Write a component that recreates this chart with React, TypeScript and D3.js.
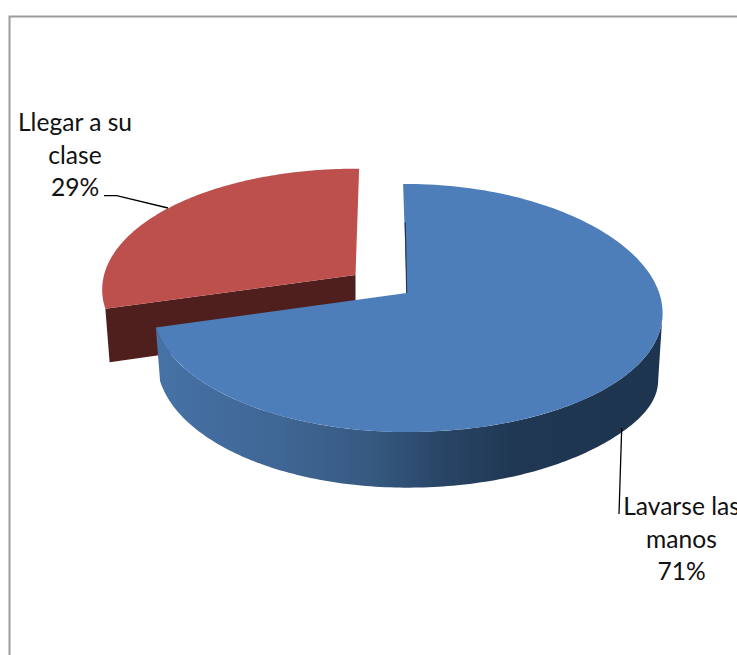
import React from "react";
import * as d3 from "d3";

const categories = ["Lavarse las manos", "Llegar a su clase"];
const values = [12, 5];
const labelLines = [["Lavarse las", "manos", "71%"], ["Llegar a su", "clase", "29%"]];
const topColors = ["#4e7eba", "#bd504d"];
const cutColor = "#4f1f1e";

const W = 737, H = 655;
const R = 254, A = 122.2, B = 0.121;
type Disc = { cx: number; cy: number; sxLeft: number; sy: number };
const blueDisc: Disc = { cx: 406.7, cy: 293, sxLeft: 0.993, sy: 1 };
const redDisc: Disc = { cx: 355.5, cy: 275, sxLeft: 0.99, sy: 0.975 };
const lean = 0.016; // cut edges of each slice lean outward at the far rim

// Tilted-disc projection: theta clockwise from top, r in 0..1, z 0 (top) .. 1 (bottom face)
function project(p: Disc, theta: number, r: number, z: number): [number, number] {
  const u = r * Math.sin(theta);
  const v = -r * Math.cos(theta);
  const d = 1 - B * v;
  const shrink = 1 - 0.017 * z;
  const xs = u < 0 ? p.sxLeft : 1;
  const pos = Math.max(u, 0);
  const droop = 5 * pos ** 2 + z * 14 * pos ** 8;
  const x = p.cx + (R * xs * u / d) * shrink;
  const y = p.cy + (A * p.sy * v / d) * shrink + droop + z * (52.5 + 5.5 * v);
  return [x, y];
}

const slices = d3.pie<number>().sort(null)(values);
const line = d3.line();

function rim(p: Disc, a0: number, a1: number, z: number): [number, number][] {
  return d3.range(0, 161).map((i) => project(p, a0 + ((a1 - a0) * i) / 160, 1, z));
}
function topFace(p: Disc, a0: number, a1: number) {
  return line([project(p, 0, 0, 0), ...rim(p, a0, a1, 0)])! + "Z";
}

export default function App() {
  const blue = slices[0];
  const red = slices[1];
  const sideStart = (97 * Math.PI) / 180;
  const blueSide =
    line([...rim(blueDisc, sideStart, blue.endAngle, 0), ...rim(blueDisc, sideStart, blue.endAngle, 1).reverse()])! + "Z";
  const redCut =
    line([
      project(redDisc, 0, 0, 0),
      project(redDisc, red.startAngle, 1, 0),
      project(redDisc, red.startAngle, 1, 1),
      project(redDisc, 0, 0, 1),
    ])! + "Z";
  const sliverTop = project(blueDisc, -lean * 0.62, 0.62, 0);
  const fontFamily = "Lato, Carlito, Calibri, sans-serif";

  return (
    <svg
      width={W}
      height={H}
      style={{ position: "fixed", left: 0, top: 0, display: "block", background: "#fff" }}
    >
      <defs>
        <linearGradient id="side" gradientUnits="userSpaceOnUse" x1={156} x2={663} y1={0} y2={0}>
          <stop offset="0" stopColor="#4672a6" />
          <stop offset="0.25" stopColor="#3f6694" />
          <stop offset="0.42" stopColor="#365a81" />
          <stop offset="0.55" stopColor="#2a4769" />
          <stop offset="0.7" stopColor="#203853" />
          <stop offset="1" stopColor="#1e344f" />
        </linearGradient>
      </defs>

      <path d={`M9.5 ${H}V16.5H${W}`} fill="none" stroke="#9c9c9c" strokeWidth={2} />

      <g aria-label={categories[1]}>
        <path d={redCut} fill={cutColor} />
        <path d={topFace(redDisc, red.startAngle, red.endAngle + lean)} fill={topColors[1]} />
      </g>

      <g aria-label={categories[0]}>
        <path d={blueSide} fill="url(#side)" />
        <path d={topFace(blueDisc, blue.startAngle - lean, blue.endAngle)} fill={topColors[0]} />
        <path d={line([sliverTop, project(blueDisc, 0, 0, 0)])!} stroke="#1f3552" strokeWidth={1.1} fill="none" />
      </g>

      <path d="M104 195.7H116.7L168 208" fill="none" stroke="#000" strokeWidth={1.3} />
      <path d="M621.7 428L619 514" fill="none" stroke="#000" strokeWidth={1.3} />

      <g fontFamily={fontFamily} fontSize={24.6} fill="#111" textAnchor="middle">
        {labelLines[1].map((t, i) => (
          <text key={t} x={75} y={131 + i * 32.5}>{t}</text>
        ))}
        {labelLines[0].map((t, i) => (
          <text key={t} x={681.5} y={515 + i * 32.5}>{t}</text>
        ))}
      </g>
    </svg>
  );
}
